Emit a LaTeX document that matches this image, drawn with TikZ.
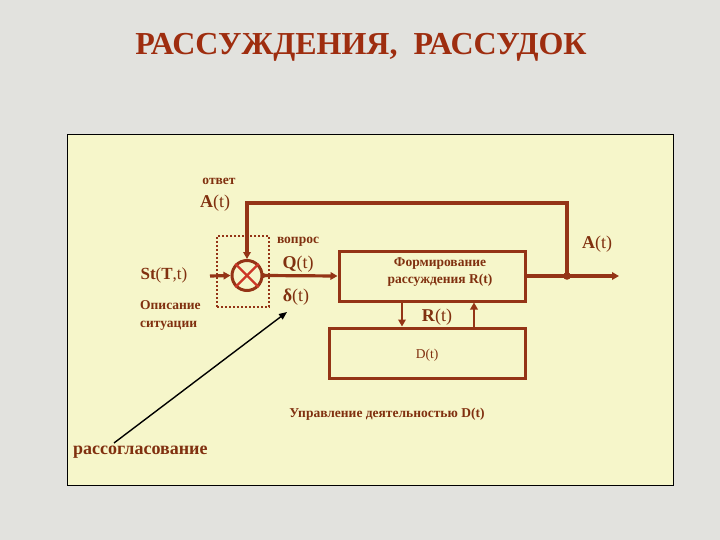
\documentclass[tikz,border=0pt]{standalone}
\usepackage{fontspec}
\setmainfont{Liberation Serif}
\usetikzlibrary{arrows.meta}
\definecolor{bg}{RGB}{226,226,222}
\definecolor{panel}{RGB}{246,246,202}
\definecolor{ln}{RGB}{148,52,22}
\definecolor{tx}{RGB}{128,48,15}
\definecolor{ttl}{RGB}{158,45,15}
\definecolor{crs}{RGB}{205,55,40}
\tikzset{
  wire/.style={draw=ln, line width=3.2pt},
  arr/.style={wire, -{Triangle[length=7pt,width=7.5pt]}},
  blk/.style={draw=ln, line width=3pt, minimum width=186pt, minimum height=50pt, inner sep=0pt},
  small/.style={text=tx, font=\fontsize{13.5}{14}\selectfont\bfseries, inner sep=0pt},
  big/.style={text=tx, font=\fontsize{18}{20}\selectfont, inner sep=0pt},
  ttlstyle/.style={text=ttl, font=\fontsize{32}{34}\selectfont\bfseries, inner sep=0pt}
}
\begin{document}
\begin{tikzpicture}[x=1pt,y=-1pt]
\fill[bg] (0,0) rectangle (720,540);
\useasboundingbox (0,0) rectangle (720,540);
\node[ttlstyle] (title) at (361,47) {РАССУЖДЕНИЯ,\ \ РАССУДОК};
\draw[black, line width=1pt, fill=panel] (67,135) rectangle (673,485);

% mixer
\node[draw=ln, line width=1.8pt, dash pattern=on 2pt off 2pt, minimum width=52pt, minimum height=71pt, inner sep=0pt] (mixbox) at (243,271.5) {};
\node[circle, draw=ln, line width=3pt, minimum size=30pt, inner sep=0pt] (mix) at (247,275.5) {};
\draw[crs, line width=2.2pt] (mix.north west) -- (mix.south east);
\draw[crs, line width=2.2pt] (mix.north east) -- (mix.south west);

% blocks
\node[blk] (form) at (432,276) {};
\node[small, align=center] (formtxt) at (440,272) {Формирование\\[3pt]рассуждения R(t)};
\node[blk, minimum width=196pt] (dbox) at (427,353) {};
\node[text=tx, font=\fontsize{13.5}{14}\selectfont, inner sep=0pt] (dtxt) at (427,355) {D(t)};

% coordinates
\coordinate (in) at (210,276);
\coordinate (junc) at (567,276);
\coordinate (out) at (619,276);
\coordinate (tr) at (567,203);
\coordinate (dn) at (402,0);
\coordinate (up) at (474,0);

% connectors
\draw[arr] (in) -- (mix.west);
\draw[arr] (mix.east) -- (form.west);
\fill[ln] (mix.east) circle (2.4pt);
\draw[wire] (form.east) -- (junc);
\draw[arr] (junc) -- (out);
\fill[ln] (junc) circle (3.8pt);
\draw[arr] (junc) -- (tr) -| (mix.north);
\draw[arr, line width=2.6pt] (form.south -| dn) -- (dbox.north -| dn);
\draw[arr, line width=2.6pt] (dbox.north -| up) -- (form.south -| up);

% labels
\node[small] (otvet) at (219,181) {ответ};
\node[big] (a1) at (215,203) {\textbf{A}(t)};
\node[small] (vopros) at (298,242) {вопрос};
\node[big] (q) at (298,264) {\textbf{Q}(t)};
\node[big] (delta) at (296,297) {\textbf{δ}(t)};
\node[big, font=\fontsize{17}{19}\selectfont] (st) at (164,275) {\textbf{St}(\textbf{T},t)};
\node[small, align=left, anchor=west] (opis) at (140,315.5) {Описание\\[4pt]ситуации};
\node[big] (rt) at (437,317) {\textbf{R}(t)};
\node[big] (a2) at (597,244) {\textbf{A}(t)};
\node[small] (upr) at (387,414) {Управление деятельностью D(t)};
\node[text=tx, font=\fontsize{18}{20}\selectfont\bfseries, inner sep=0pt, anchor=west] (rassog) at (73,452) {рассогласование};

\coordinate (rs) at (114,443);
\coordinate (rt2) at (287,312);
\draw[black, line width=1.4pt, -{Triangle[length=8pt,width=6.5pt]}] (rs) -- (rt2);
\end{tikzpicture}
\end{document}
